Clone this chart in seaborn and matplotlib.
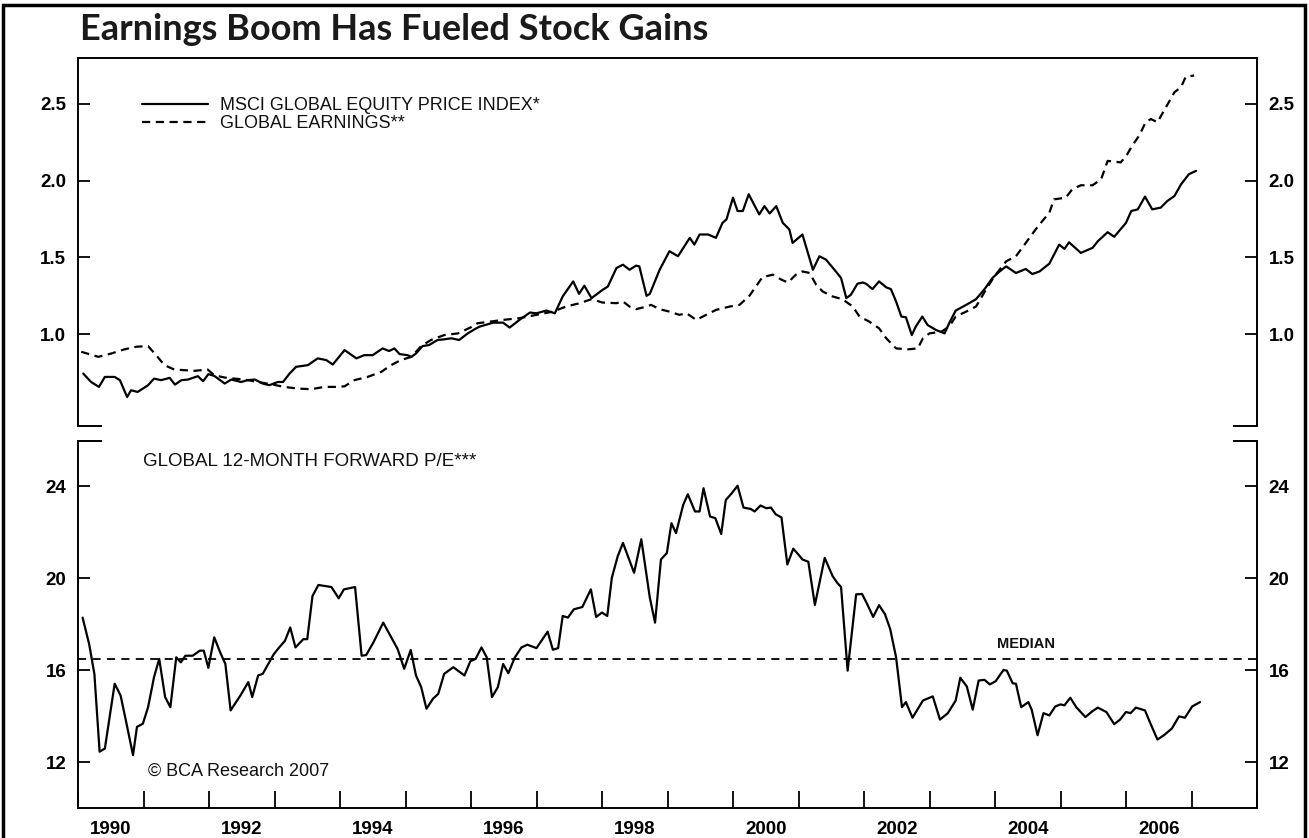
import matplotlib
matplotlib.use("Agg")
import matplotlib.pyplot as plt
import seaborn as sns
import pandas as pd
from matplotlib.lines import Line2D
from matplotlib.patches import Rectangle
from matplotlib.ticker import FixedLocator, NullFormatter, FixedFormatter

# ---------------- data ----------------
msci_year = [1990.08, 1990.20, 1990.32, 1990.41, 1990.56, 1990.64, 1990.75, 1990.81, 1990.91, 1991.07,
             1991.16, 1991.27, 1991.40, 1991.48, 1991.58, 1991.68, 1991.83, 1991.91, 1991.99, 1992.08,
             1992.24, 1992.34, 1992.49, 1992.59, 1992.70, 1992.82, 1992.92, 1993.05, 1993.13, 1993.23,
             1993.33, 1993.51, 1993.66, 1993.79, 1993.89, 1994.07, 1994.25, 1994.37, 1994.50, 1994.65,
             1994.75, 1994.83, 1994.91, 1995.03, 1995.09, 1995.16, 1995.26, 1995.36, 1995.49, 1995.59,
             1995.70, 1995.82, 1995.95, 1996.08,
             1996.13, 1996.34, 1996.49, 1996.59, 1996.74, 1996.90, 1997.00, 1997.15, 1997.28, 1997.40,
             1997.56, 1997.65, 1997.73, 1997.84, 1998.01, 1998.09, 1998.22, 1998.32, 1998.42, 1998.52,
             1998.57, 1998.68, 1998.73, 1998.88, 1999.03, 1999.16, 1999.34, 1999.41, 1999.49, 1999.62,
             1999.74, 1999.84, 1999.90, 2000.00, 2000.07, 2000.15, 2000.24, 2000.40, 2000.48, 2000.56,
             2000.66, 2000.76, 2000.86, 2000.91, 2001.06, 2001.22, 2001.32, 2001.42, 2001.57, 2001.65,
             2001.73, 2001.80, 2001.90, 2001.98,
             2002.03, 2002.13, 2002.23, 2002.34, 2002.41, 2002.49, 2002.57, 2002.64, 2002.73, 2002.79,
             2002.89, 2002.97, 2003.10, 2003.23, 2003.30, 2003.40, 2003.56, 2003.71, 2003.79, 2003.86,
             2003.96, 2004.07, 2004.17, 2004.32, 2004.47, 2004.57, 2004.68, 2004.83, 2004.98, 2005.06,
             2005.13, 2005.31, 2005.49, 2005.57, 2005.72, 2005.82, 2006.00, 2006.08, 2006.18, 2006.29,
             2006.40, 2006.53, 2006.63, 2006.74, 2006.84, 2006.96, 2007.07]
msci_value = [0.742, 0.687, 0.655, 0.720, 0.720, 0.699, 0.589, 0.633, 0.622, 0.666,
              0.709, 0.699, 0.714, 0.670, 0.699, 0.703, 0.725, 0.692, 0.738, 0.727,
              0.677, 0.703, 0.687, 0.699, 0.703, 0.677, 0.666, 0.687, 0.687, 0.742,
              0.786, 0.797, 0.841, 0.830, 0.801, 0.895, 0.841, 0.862, 0.862, 0.906,
              0.889, 0.906, 0.869, 0.862, 0.851, 0.873, 0.921, 0.928, 0.961, 0.965,
              0.972, 0.961, 1.004, 1.037,
              1.048, 1.074, 1.074, 1.042, 1.092, 1.140, 1.135, 1.153, 1.135, 1.245,
              1.343, 1.262, 1.315, 1.234, 1.288, 1.310, 1.430, 1.452, 1.419, 1.446,
              1.441, 1.249, 1.262, 1.419, 1.540, 1.507, 1.627, 1.583, 1.649, 1.649,
              1.627, 1.725, 1.747, 1.889, 1.802, 1.802, 1.911, 1.780, 1.834, 1.786,
              1.834, 1.725, 1.682, 1.594, 1.649, 1.419, 1.507, 1.485, 1.408, 1.365,
              1.234, 1.256, 1.328, 1.336,
              1.328, 1.293, 1.343, 1.304, 1.293, 1.212, 1.114, 1.109, 0.993, 1.048,
              1.114, 1.059, 1.026, 1.004, 1.070, 1.153, 1.190, 1.227, 1.267, 1.304,
              1.365, 1.408, 1.441, 1.398, 1.424, 1.391, 1.408, 1.459, 1.583, 1.555,
              1.598, 1.529, 1.562, 1.605, 1.664, 1.634, 1.725, 1.802, 1.813, 1.896,
              1.813, 1.824, 1.867, 1.900, 1.976, 2.042, 2.064]

earn_year = [1990.05, 1990.31, 1990.51, 1990.71, 1990.89, 1991.07, 1991.17, 1991.32, 1991.47, 1991.63,
             1991.78, 1991.98, 1992.08, 1992.24, 1992.39, 1992.54, 1992.75, 1992.95, 1993.15, 1993.36,
             1993.56, 1993.76, 1993.97, 1994.07, 1994.22, 1994.42, 1994.63, 1994.78, 1994.93, 1995.09,
             1995.24, 1995.39, 1995.59, 1995.80, 1996.00, 1996.10,
             1996.49, 1996.74, 1997.00, 1997.25, 1997.45, 1997.66, 1997.84, 1998.01, 1998.22, 1998.32,
             1998.42, 1998.52, 1998.68, 1998.75, 1998.88, 1999.03, 1999.18, 1999.29, 1999.44, 1999.59,
             1999.74, 1999.95, 2000.10, 2000.25, 2000.35, 2000.45, 2000.61, 2000.74, 2000.84, 2000.96,
             2001.06, 2001.17, 2001.27, 2001.37, 2001.52, 2001.67, 2001.83, 2001.93, 2002.08,
             2002.23, 2002.34, 2002.49, 2002.67, 2002.82, 2002.90, 2003.00, 2003.18, 2003.30, 2003.40,
             2003.56, 2003.71, 2003.86, 2003.99, 2004.17, 2004.32, 2004.47, 2004.62, 2004.70, 2004.83,
             2004.90, 2005.08, 2005.18, 2005.31, 2005.49, 2005.62, 2005.72, 2005.92, 2006.02, 2006.10,
             2006.20, 2006.30, 2006.38, 2006.48, 2006.61, 2006.74, 2006.84, 2006.91, 2007.04]
earn_value = [0.884, 0.851, 0.873, 0.900, 0.917, 0.921, 0.873, 0.797, 0.768, 0.764,
              0.760, 0.768, 0.731, 0.716, 0.709, 0.703, 0.687, 0.672, 0.655, 0.644,
              0.640, 0.655, 0.655, 0.659, 0.699, 0.720, 0.753, 0.797, 0.830, 0.851,
              0.921, 0.961, 0.993, 1.004, 1.044, 1.070,
              1.092, 1.103, 1.125, 1.146, 1.179, 1.201, 1.227, 1.205, 1.201, 1.212,
              1.179, 1.162, 1.179, 1.190, 1.162, 1.146, 1.125, 1.135, 1.092, 1.125,
              1.157, 1.179, 1.190, 1.249, 1.310, 1.371, 1.387, 1.354, 1.336, 1.387,
              1.408, 1.398, 1.321, 1.277, 1.245, 1.227, 1.179, 1.114, 1.081,
              1.037, 0.972, 0.906, 0.900, 0.906, 0.972, 1.004, 1.015, 1.048, 1.114,
              1.146, 1.179, 1.288, 1.376, 1.474, 1.507, 1.594, 1.682, 1.725, 1.791,
              1.878, 1.889, 1.944, 1.970, 1.970, 2.009, 2.129, 2.119, 2.173, 2.232,
              2.293, 2.381, 2.402, 2.381, 2.479, 2.577, 2.610, 2.676, 2.686]

pe_year = [1990.07, 1990.17, 1990.25, 1990.33, 1990.41, 1990.56, 1990.65, 1990.73, 1990.84, 1990.90,
           1990.99, 1991.07, 1991.16, 1991.24, 1991.33, 1991.41, 1991.50, 1991.57, 1991.64, 1991.75,
           1991.86, 1991.92, 1991.99, 1992.08, 1992.17, 1992.25, 1992.33, 1992.48, 1992.60, 1992.66,
           1992.75, 1992.82, 1992.99, 1993.08, 1993.16, 1993.24, 1993.32, 1993.44, 1993.50, 1993.58,
           1993.67, 1993.87, 1993.98, 1994.06, 1994.23, 1994.33, 1994.40, 1994.51, 1994.66, 1994.88,
           1994.98, 1995.08, 1995.16, 1995.24, 1995.32, 1995.42, 1995.50, 1995.59, 1995.73, 1995.90,
           1995.99, 1996.07, 1996.16, 1996.24, 1996.32, 1996.41, 1996.49, 1996.57, 1996.67, 1996.77,
           1996.86, 1997.00, 1997.17, 1997.25, 1997.33, 1997.40, 1997.48, 1997.57, 1997.70, 1997.83,
           1997.91, 1998.00, 1998.08, 1998.15, 1998.24, 1998.32, 1998.49, 1998.60,
           1998.73, 1998.81, 1998.90, 1998.99, 1999.06, 1999.13, 1999.24, 1999.31, 1999.42, 1999.49,
           1999.55, 1999.65, 1999.73, 1999.82, 1999.89, 1999.98, 2000.07, 2000.16, 2000.27, 2000.33,
           2000.42, 2000.51, 2000.58, 2000.65, 2000.74, 2000.83, 2000.92, 2001.00, 2001.06, 2001.15,
           2001.25, 2001.40, 2001.52, 2001.59, 2001.65, 2001.75, 2001.88, 2001.97, 2002.05, 2002.14,
           2002.23, 2002.32, 2002.40, 2002.49, 2002.58, 2002.64, 2002.74, 2002.90, 2003.05, 2003.16,
           2003.28, 2003.40, 2003.47, 2003.57, 2003.66, 2003.75, 2003.84, 2003.92, 2004.01, 2004.13,
           2004.18, 2004.27, 2004.32, 2004.40, 2004.51, 2004.56, 2004.65, 2004.74, 2004.83, 2004.92,
           2005.00, 2005.06, 2005.15, 2005.24, 2005.38, 2005.49, 2005.57, 2005.70, 2005.82, 2005.91,
           2006.00, 2006.07, 2006.15, 2006.29, 2006.37, 2006.48, 2006.58, 2006.70, 2006.81, 2006.90,
           2007.01, 2007.13]
pe_value = [18.29, 17.14, 15.84, 12.45, 12.59, 15.41, 14.90, 13.82, 12.30, 13.53,
            13.67, 14.39, 15.69, 16.49, 14.83, 14.39, 16.56, 16.34, 16.63, 16.63,
            16.85, 16.85, 16.10, 17.43, 16.78, 16.27, 14.25, 14.90, 15.48, 14.83,
            15.77, 15.84, 16.70, 17.02, 17.28, 17.86, 16.99, 17.35, 17.35, 19.23,
            19.71, 19.62, 19.13, 19.52, 19.62, 16.63, 16.66, 17.21, 18.07, 16.92,
            16.06, 16.88, 15.77, 15.26, 14.32, 14.76, 14.97, 15.84, 16.13, 15.77,
            16.39, 16.49, 16.99, 16.56, 14.83, 15.26, 16.27, 15.87, 16.56, 16.99,
            17.11, 16.96, 17.68, 16.89, 16.96, 18.36, 18.29, 18.65, 18.75, 19.52,
            18.32, 18.51, 18.36, 20.02, 20.96, 21.54, 20.24, 21.70,
            19.16, 18.07, 20.82, 21.10, 22.40, 21.97, 23.20, 23.66, 22.91, 22.91,
            23.92, 22.69, 22.62, 21.93, 23.41, 23.70, 24.03, 23.08, 23.02, 22.91,
            23.17, 23.05, 23.08, 22.79, 22.65, 20.60, 21.29, 21.03, 20.82, 20.72,
            18.84, 20.89, 20.10, 19.81, 19.62, 15.98, 19.30, 19.32, 18.87, 18.32,
            18.83, 18.44, 17.79, 16.56, 14.39, 14.61, 13.93, 14.68, 14.86, 13.85,
            14.13, 14.68, 15.67, 15.29, 14.28, 15.55, 15.58, 15.38, 15.52, 16.01,
            15.98, 15.43, 15.41, 14.39, 14.61, 14.28, 13.17, 14.13, 14.03, 14.42,
            14.51, 14.47, 14.80, 14.39, 13.96, 14.22, 14.37, 14.18, 13.65, 13.85,
            14.18, 14.13, 14.37, 14.25, 13.70, 12.98, 13.17, 13.46, 13.99, 13.93,
            14.42, 14.61]
pe_median = 16.5

top_yticks = [1.0, 1.5, 2.0, 2.5]
top_ylabels = ["1.0", "1.5", "2.0", "2.5"]
bot_yticks = [12, 16, 20, 24]
bot_ylabels = ["12", "16", "20", "24"]
year_ticks = list(range(1990, 2009))
year_labels = [str(y) for y in range(1990, 2007, 2)]

title = "Earnings Boom Has Fueled Stock Gains"
msci_label = "MSCI GLOBAL EQUITY PRICE INDEX*"
earn_label = "GLOBAL EARNINGS**"
pe_label = "GLOBAL 12-MONTH FORWARD P/E***"
median_label = "MEDIAN"
credit = "\u00a9 BCA Research 2007"

# ---------------- figure ----------------
sns.set_theme(style="white")
plt.rcParams['font.family'] = ['Liberation Sans', 'DejaVu Sans']

W, H = 1309, 838
fig = plt.figure(figsize=(W / 100, H / 100), dpi=100)
fig.patch.set_facecolor("white")

ax1 = fig.add_axes([78 / W, 1 - 426 / H, 1179 / W, 368 / H])
ax2 = fig.add_axes([78 / W, 1 - 808 / H, 1179 / W, 367.5 / H])

LW = 1.6
dash = (0, (3.7, 2.5))

df_m = pd.DataFrame({"year": msci_year, "value": msci_value})
df_e = pd.DataFrame({"year": earn_year, "value": earn_value})
df_p = pd.DataFrame({"year": pe_year, "value": pe_value})

sns.lineplot(data=df_m, x="year", y="value", ax=ax1, color="black", lw=LW, estimator=None, sort=False)
sns.lineplot(data=df_e, x="year", y="value", ax=ax1, color="black", lw=LW, linestyle=dash,
             estimator=None, sort=False)
sns.lineplot(data=df_p, x="year", y="value", ax=ax2, color="black", lw=LW, estimator=None, sort=False)
ax2.axhline(pe_median, color="black", lw=1.3, linestyle=(0, (4.5, 3.5)))

for ax in (ax1, ax2):
    ax.set_xlim(1990, 2008)
    ax.set_xlabel("")
    ax.set_ylabel("")
    ax.set_facecolor("white")
    for s in ax.spines.values():
        s.set_color("black")
        s.set_linewidth(1.4)

ax1.set_ylim(0.4, 2.8)
ax2.set_ylim(10, 26)

ax1.spines["bottom"].set_visible(False)
ax2.spines["top"].set_visible(False)

stub = 24 / 1179
for ax, yy in ((ax1, 0), (ax2, 1)):
    ax.plot([0, stub], [yy, yy], transform=ax.transAxes, color="black", lw=1.4, clip_on=False,
            solid_capstyle="butt")
    ax.plot([1 - stub, 1], [yy, yy], transform=ax.transAxes, color="black", lw=1.4, clip_on=False,
            solid_capstyle="butt")

TICK_FS = 13.5
ax1.set_yticks(top_yticks)
ax1.set_yticklabels(top_ylabels)
ax2.set_yticks(bot_yticks)
ax2.set_yticklabels(bot_ylabels)
for ax in (ax1, ax2):
    ax.tick_params(axis="y", which="major", direction="in", length=8.5, width=1.3, color="black",
                   left=True, right=True, labelleft=True, labelright=True, pad=8.5,
                   labelsize=TICK_FS, labelcolor="black")
    for lab in ax.get_yticklabels():
        lab.set_fontweight("bold")

ax1.set_xticks([])
ax1.tick_params(axis="x", bottom=False, labelbottom=False)

ax2.xaxis.set_major_locator(FixedLocator(year_ticks))
ax2.xaxis.set_major_formatter(NullFormatter())
ax2.xaxis.set_minor_locator(FixedLocator([int(y) + 0.5 for y in year_labels]))
ax2.xaxis.set_minor_formatter(FixedFormatter(year_labels))
ax2.tick_params(axis="x", which="major", direction="in", length=12, width=1.3, color="black",
                bottom=True, top=False)
ax2.tick_params(axis="x", which="minor", length=0, pad=9, labelsize=TICK_FS, labelcolor="black")
for lab in ax2.xaxis.get_minorticklabels():
    lab.set_fontweight("bold")

# legend (top panel)
handles = [Line2D([], [], color="black", lw=LW),
           Line2D([], [], color="black", lw=LW, linestyle=dash)]
leg = ax1.legend(handles, [msci_label, earn_label], loc="upper left",
                 bbox_to_anchor=(0.048, 0.914), frameon=False, handlelength=3.65,
                 handletextpad=0.66, labelspacing=0.08, borderaxespad=0,
                 prop=dict(family=['Liberation Sans', 'DejaVu Sans'], size=13))
for t in leg.get_texts():
    t.set_color("#111111")

ax2.text(0.055, 0.942, pe_label, transform=ax2.transAxes, fontsize=13.5, color="#111111",
         va="center", ha="left")
ax2.text(0.0594, 0.100, credit, transform=ax2.transAxes, fontsize=13, color="#111111",
         va="center", ha="left")
ax2.text(2004.48, pe_median + 0.35, median_label, fontsize=10.5, fontweight="bold",
         ha="center", va="bottom", color="#111111")

fig.text(80 / W, 1 - 30 / H, title, fontsize=26, fontweight="bold",
         family=['Lato', 'DejaVu Sans'], va="center", ha="left", color="#1a1a1a")

# outer frame
fig.patches.append(Rectangle((3 / W, -0.01), 1302 / W, 1 - 5 / H + 0.01, transform=fig.transFigure,
                             fill=False, edgecolor="black", lw=2.5, zorder=10))

fig.savefig("out.png", dpi=100, facecolor="white")
